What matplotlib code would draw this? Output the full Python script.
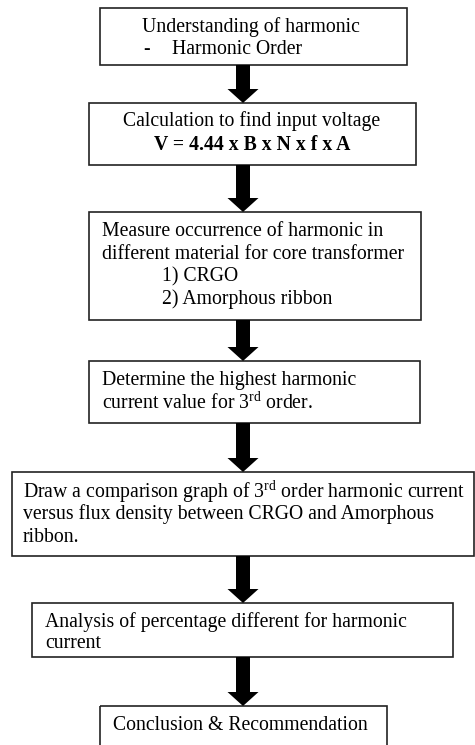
import matplotlib
matplotlib.use('Agg')
import matplotlib.pyplot as plt
from matplotlib.patches import Rectangle

plt.rcParams['font.family'] = ['Liberation Serif', 'DejaVu Serif']
plt.rcParams['mathtext.fontset'] = 'custom'
plt.rcParams['mathtext.rm'] = 'Liberation Serif'

# step texts, one list of lines per box
step1 = ['Understanding of harmonic']
step2 = ['Calculation to find input voltage']
step3 = ['Measure occurrence of harmonic in',
         'different material for core transformer']
step3_items = ['1) CRGO', '2) Amorphous ribbon']
step4 = ['Determine the highest harmonic',
         r'current value for 3$^{\mathrm{rd}}$ order.']
step5 = [r'Draw a comparison graph of 3$^{\mathrm{rd}}$ order harmonic current',
         'versus flux density between CRGO and Amorphous',
         'ribbon.']
step6 = ['Analysis of percentage different for harmonic',
         'current']
step7 = ['Conclusion & Recommendation']

# box layout in pixels: left, top, right, bottom
boxes = [(100, 8, 407, 65),
         (89, 103, 416, 165),
         (89, 212, 421, 320),
         (89, 361, 420, 423),
         (12, 472, 474, 556),
         (32, 603, 453, 657),
         (100, 706, 387, 760)]

fig = plt.figure(figsize=(4.75, 7.45), dpi=100)
ax = fig.add_axes([0, 0, 1, 1])
ax.set_xlim(0, 475)
ax.set_ylim(745, 0)
ax.axis('off')

for l, t, r, b in boxes:
    ax.add_patch(Rectangle((l, t), r - l, b - t, fill=False,
                           edgecolor='#222222', lw=1.2))

# arrows between boxes
cx = 243
for i in range(len(boxes) - 1):
    y0 = boxes[i][3]
    y1 = boxes[i + 1][1]
    ax.arrow(cx, y0, 0, y1 - y0, width=14, head_width=31, head_length=14,
             length_includes_head=True, color='black', lw=0)

fs = 14.2
lh = 22.5

# box 1
ax.text(142, 27, step1[0], fontsize=fs, va='center', ha='left')
ax.text(143, 50, '-', fontsize=fs, va='center', ha='left')
ax.text(172, 50, 'Harmonic Order', fontsize=fs, va='center', ha='left')

# box 2
ax.text(252, 121, step2[0], fontsize=fs, va='center', ha='center')
ax.text(252, 145, 'V = 4.44 x B x N x f x A', fontsize=fs, va='center',
        ha='center', fontweight='bold')

# box 3
for k, line in enumerate(step3):
    ax.text(102, 232 + k * lh, line, fontsize=fs, va='center', ha='left')
for k, line in enumerate(step3_items):
    ax.text(162, 277 + k * lh, line, fontsize=fs, va='center', ha='left')

# box 4
for k, line in enumerate(step4):
    ax.text(102, 380 + k * lh, line, fontsize=fs, va='center', ha='left')

# box 5
for k, line in enumerate(step5):
    ax.text(23, 492 + k * lh, line, fontsize=fs, va='center', ha='left')

# box 6
for k, line in enumerate(step6):
    ax.text(45, 622 + k * 21, line, fontsize=fs, va='center', ha='left')

# box 7
ax.text(113, 725, step7[0], fontsize=fs, va='center', ha='left')

fig.savefig('out.png', dpi=100, facecolor='white')
